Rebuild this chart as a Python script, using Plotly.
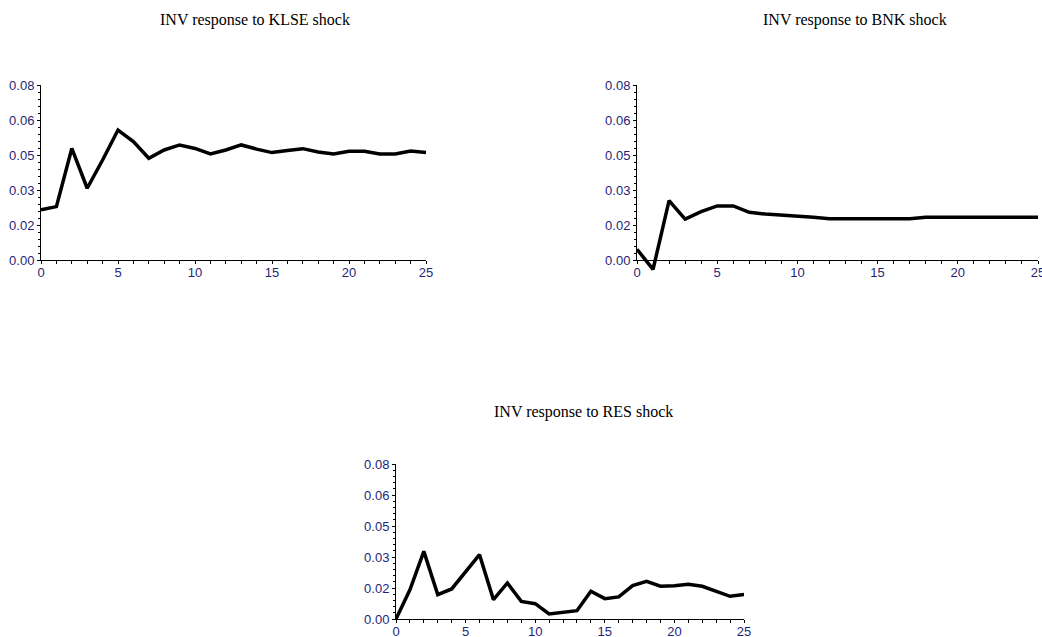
import plotly.graph_objects as go

periods = list(range(26))
klse = [0.0229, 0.0244, 0.0510, 0.0328, 0.0457, 0.0594, 0.0541, 0.0465, 0.0503, 0.0526,
        0.0510, 0.0485, 0.0503, 0.0526, 0.0507, 0.0491, 0.0501, 0.0509, 0.0494, 0.0485,
        0.0497, 0.0497, 0.0485, 0.0485, 0.0498, 0.0491]
bnk = [0.0049, -0.0043, 0.0271, 0.0187, 0.0221, 0.0247, 0.0247, 0.0218, 0.0210, 0.0206,
       0.0201, 0.0195, 0.0189, 0.0189, 0.0189, 0.0189, 0.0189, 0.0189, 0.0195, 0.0195,
       0.0195, 0.0195, 0.0195, 0.0195, 0.0195, 0.0195]
res = [0.0000, 0.0151, 0.0349, 0.0126, 0.0155, 0.0246, 0.0332, 0.0100, 0.0186, 0.0091,
       0.0079, 0.0026, 0.0036, 0.0043, 0.0143, 0.0105, 0.0114, 0.0172, 0.0194, 0.0169,
       0.0172, 0.0179, 0.0169, 0.0143, 0.0117, 0.0126]
titles = ["INV response to KLSE shock", "INV response to BNK shock", "INV response to RES shock"]
ytickvals = [0.0, 0.016, 0.032, 0.048, 0.064, 0.08]
yticktext = ["0.00", "0.02", "0.03", "0.05", "0.06", "0.08"]
xtickvals = [0, 5, 10, 15, 20, 25]

W, H = 1042, 637
# plot-area boxes in pixels (left, right, top, bottom)
boxes = [(41, 426, 85, 260), (637, 1038, 85, 260), (396, 744, 464, 619)]
title_pos = [(255, 20), (855, 20), (583, 412)]
series = [klse, bnk, res]
Y0, Y1 = 0.0, 0.08
YPAD = 0.01  # extra room below zero so dips under the axis stay visible

label_font = dict(family="Liberation Sans Narrow, Arial Narrow, Liberation Sans, Arial", size=13, color="#1f1f78")
fig = go.Figure()
layout = dict(width=W, height=H, margin=dict(l=0, r=0, t=0, b=0, autoexpand=False),
              paper_bgcolor="white", plot_bgcolor="rgba(0,0,0,0)", showlegend=False)
annotations = []
for i, (box, ys) in enumerate(zip(boxes, series)):
    l, r, t, b = box
    xd = [l / W, r / W]
    yd = [1 - b / H, 1 - t / H]
    n = i + 1
    xa, ya = f"x{n}", f"y{n}"
    xk, yk = f"xaxis{n}", f"yaxis{n}"
    # placeholder trace so the visible axes form a subplot
    fig.add_trace(go.Scatter(x=[None], y=[None], mode="lines", xaxis=xa, yaxis=ya,
                             hoverinfo="skip", showlegend=False))
    # hidden data axis with the same scale, extended below zero
    d = i + 7
    pxper = (b - t) / (Y1 - Y0)
    pad = min(YPAD, (H - b - 1) / pxper)
    ext_b = b + pad * pxper
    layout[f"yaxis{d}"] = dict(domain=[max(0.0, 1 - ext_b / H), 1 - t / H], range=[Y0 - pad, Y1],
                               visible=False, anchor=xa, automargin=False)
    fig.add_trace(go.Scatter(x=periods, y=ys, mode="lines", xaxis=xa, yaxis=f"y{d}",
                             line=dict(color="black", width=3.5)))
    common_x = dict(domain=xd, range=[0, 25], showgrid=False, zeroline=False, automargin=False,
                    showline=True, linecolor="black", linewidth=1)
    common_y = dict(domain=yd, range=[Y0, Y1], showgrid=False, zeroline=False, automargin=False,
                    showline=True, linecolor="black", linewidth=1)
    layout[xk] = dict(**common_x, anchor=ya, tickmode="array", tickvals=xtickvals,
                      ticks="outside", ticklen=3, tickcolor="black", tickfont=label_font,
                      ticklabeloverflow="allow", ticklabelstandoff=-3,
                      minor=dict(dtick=1, tick0=0, ticks="outside", ticklen=3, tickcolor="black", showgrid=False))
    layout[yk] = dict(**common_y, anchor=xa, tickmode="array", tickvals=ytickvals, ticktext=yticktext,
                      ticks="outside", ticklen=3, tickcolor="black", tickfont=label_font,
                      ticklabeloverflow="allow",
                      minor=dict(dtick=0.0032, tick0=0, ticks="outside", ticklen=2, tickcolor="black", showgrid=False))
    # overlay axes for the inside half of the crossing ticks
    m = i + 4
    layout[f"xaxis{m}"] = dict(**common_x, anchor=ya, overlaying=xa, tickmode="array", tickvals=xtickvals,
                               ticks="inside", ticklen=3, tickcolor="black", showticklabels=False,
                               minor=dict(dtick=1, tick0=0, ticks="inside", ticklen=3, tickcolor="black", showgrid=False))
    layout[f"yaxis{m}"] = dict(**common_y, anchor=xa, overlaying=ya, tickmode="array", tickvals=ytickvals,
                               ticks="inside", ticklen=3, tickcolor="black", showticklabels=False,
                               minor=dict(dtick=0.0032, tick0=0, ticks="inside", ticklen=2, tickcolor="black", showgrid=False))
    tx, ty = title_pos[i]
    annotations.append(dict(text=titles[i], x=tx / W, y=1 - ty / H, xref="paper", yref="paper",
                            showarrow=False, xanchor="center", yanchor="middle",
                            font=dict(family="Liberation Serif, Times New Roman", size=16, color="black")))
layout["annotations"] = annotations
fig.update_layout(**layout)
fig.write_html("out.html", config={"displayModeBar": False},
               post_script="document.body.style.margin='0px';document.body.style.overflow='hidden';")
